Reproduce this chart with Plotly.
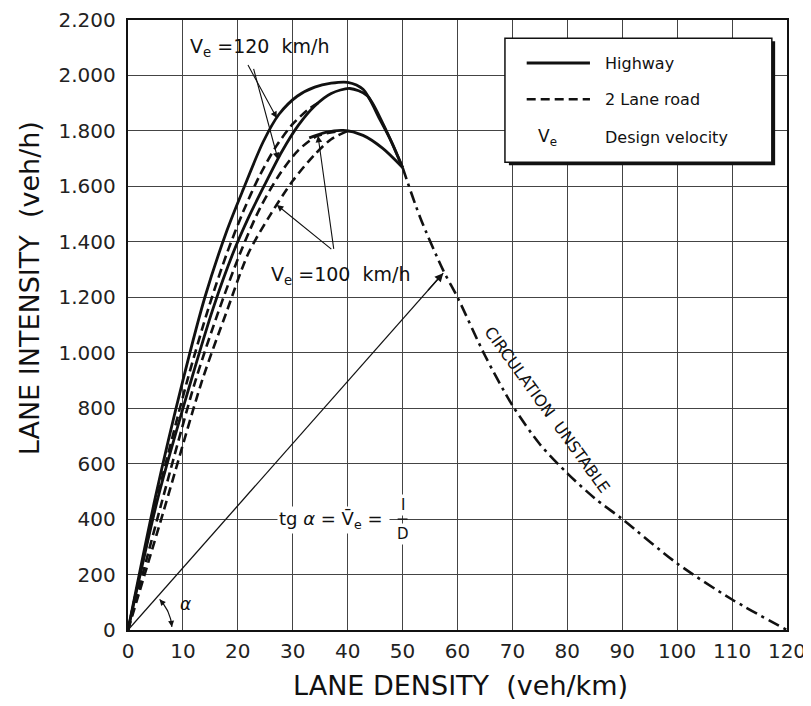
import numpy as np
import plotly.graph_objects as go

# lane density (veh/km) / lane intensity (veh/h)
k_hw_120 = [0, 5, 10, 14, 18, 21, 24.6, 27.5, 30.8, 34, 37, 40, 42.8, 45.9, 48, 50]
q_hw_120 = [0, 480, 900, 1200, 1440, 1590, 1760, 1860, 1925, 1958, 1972, 1975, 1950, 1840, 1760, 1668]

k_hw_100 = [0, 5.5, 11.5, 15.5, 19.1, 22, 25, 28, 31, 34, 37, 40.4, 43.5, 46.4, 50]
q_hw_100 = [0, 480, 900, 1160, 1358, 1490, 1610, 1725, 1820, 1890, 1935, 1953, 1928, 1827, 1668]

k_top = [33, 36, 39.2, 42.8, 46.4, 50]
q_top = [1775, 1795, 1802, 1784, 1737, 1668]

k_2l_120 = [0, 5, 10.8, 14.8, 18, 21, 24, 27, 30, 33, 35]
q_2l_120 = [0, 450, 900, 1170, 1358, 1510, 1640, 1745, 1825, 1880, 1905]

k_2l_mid = [0, 6, 12.3, 16.5, 20.4, 24, 27.5, 31, 34.5, 38.6]
q_2l_mid = [0, 450, 900, 1150, 1358, 1520, 1640, 1730, 1782, 1800]

k_2l_100 = [0, 6.5, 13.5, 18, 21.9, 26, 30, 34, 37, 40]
q_2l_100 = [0, 430, 900, 1150, 1358, 1500, 1620, 1715, 1770, 1800]

k_unstable = [50, 53.2, 57.4, 60, 65, 70, 75, 80, 85, 90, 100, 110, 120]
q_unstable = [1668, 1488, 1297, 1200, 990, 810, 670, 565, 475, 400, 240, 110, 0]

x_ticks = list(range(0, 121, 10))
y_ticks = list(range(0, 2201, 200))

FONT = "DejaVu Sans"
INK = "#111"

fig = go.Figure()

def curve(k, q, dash="solid", width=2.8):
    fig.add_trace(go.Scatter(x=k, y=q, mode="lines", line=dict(color=INK, width=width, dash=dash, shape="spline", smoothing=0.8),
                             hoverinfo="skip", showlegend=False))

curve(k_hw_120, q_hw_120)
curve(k_hw_100, q_hw_100)
curve(k_top, q_top)
curve(k_2l_120, q_2l_120, dash="9px,5px", width=2.6)
curve(k_2l_mid, q_2l_mid, dash="9px,5px", width=2.6)
curve(k_2l_100, q_2l_100, dash="9px,5px", width=2.6)
curve(k_unstable, q_unstable, dash="12px,5px,3px,5px", width=2.6)

# secant line from the origin
tip_k, tip_q = k_unstable[2], q_unstable[2] - 10
fig.add_trace(go.Scatter(x=[0, tip_k], y=[0, tip_q], mode="lines", line=dict(color=INK, width=1.3),
                         hoverinfo="skip", showlegend=False))
fig.add_annotation(x=tip_k, y=tip_q, ax=tip_k - 3, ay=tip_q - 3 * tip_q / tip_k, axref="x", ayref="y",
                   text="", showarrow=True, arrowhead=2, arrowsize=1.3, arrowwidth=1.3, arrowcolor=INK)

# alpha arc (radius in px converted through the axis scale)
px_x, px_y = 659 / 120, 610 / 2200
ang = np.radians(np.linspace(4, 44, 30))
fig.add_trace(go.Scatter(x=44 * np.cos(ang) / px_x, y=44 * np.sin(ang) / px_y, mode="lines",
                         line=dict(color=INK, width=1.2), hoverinfo="skip", showlegend=False))
fig.add_annotation(x=44 * np.cos(ang[0]) / px_x, y=44 * np.sin(ang[0]) / px_y, ax=44 * np.cos(ang[5]) / px_x, ay=44 * np.sin(ang[5]) / px_y,
                   axref="x", ayref="y", text="", showarrow=True, arrowhead=2, arrowsize=1, arrowwidth=1.2, arrowcolor=INK)
fig.add_annotation(x=44 * np.cos(ang[-1]) / px_x, y=44 * np.sin(ang[-1]) / px_y, ax=44 * np.cos(ang[-6]) / px_x, ay=44 * np.sin(ang[-6]) / px_y,
                   axref="x", ayref="y", text="", showarrow=True, arrowhead=2, arrowsize=1, arrowwidth=1.2, arrowcolor=INK)
fig.add_annotation(x=10.4, y=95, text="<i>α</i>", showarrow=False, font=dict(family=FONT, size=17, color=INK))

# Ve labels with pointer arrows
def pointer(tail, k_list, q_list, k_at):
    fig.add_annotation(x=k_at, y=float(np.interp(k_at, k_list, q_list)), ax=tail[0], ay=tail[1], axref="x", ayref="y",
                       text="", showarrow=True, arrowhead=2, arrowsize=1.2, arrowwidth=1.1, arrowcolor=INK)

fig.add_annotation(x=24.0, y=2100, text="V<sub>e</sub> =120  km/h", showarrow=False, font=dict(family=FONT, size=19, color=INK))
pointer((21.7, 2043), k_hw_120, q_hw_120, 27.1)
pointer((22.8, 2029), k_hw_100, q_hw_100, 27.3)

fig.add_annotation(x=38.7, y=1280, text="V<sub>e</sub> =100  km/h", showarrow=False, font=dict(family=FONT, size=19, color=INK))
pointer((37.3, 1369), k_2l_100, q_2l_100, 27.1)
pointer((37.5, 1369), k_2l_mid, q_2l_mid, 34.6)

# tg alpha label with I/D fraction
fig.add_annotation(x=37.5, y=398, text="tg <i>α</i> = V̄<sub>e</sub> = ", showarrow=False, bgcolor="white",
                   font=dict(family=FONT, size=18, color=INK))
fig.add_annotation(x=50.0, y=450, text="I", showarrow=False, bgcolor="white", font=dict(family=FONT, size=15, color=INK))
fig.add_annotation(x=50.0, y=348, text="D", showarrow=False, bgcolor="white", font=dict(family=FONT, size=15, color=INK))
fig.add_shape(type="line", x0=49.1, x1=50.9, y0=400, y1=400, line=dict(color=INK, width=1.3))

fig.add_annotation(x=76.3, y=795, text="CIRCULATION  UNSTABLE", textangle=54, showarrow=False,
                   font=dict(family=FONT, size=16, color=INK))

# legend box drawn by hand
fig.add_shape(type="rect", xref="paper", yref="paper", x0=0.578, x1=0.982, y0=0.762, y1=0.965,
              line=dict(width=0), fillcolor=INK)
fig.add_shape(type="rect", xref="paper", yref="paper", x0=0.572, x1=0.977, y0=0.767, y1=0.970,
              line=dict(width=1.5, color=INK), fillcolor="white")
fig.add_shape(type="line", xref="paper", yref="paper", x0=0.605, x1=0.701, y0=0.9295, y1=0.9295,
              line=dict(width=2.8, color=INK))
fig.add_shape(type="line", xref="paper", yref="paper", x0=0.605, x1=0.701, y0=0.870, y1=0.870,
              line=dict(width=2.6, color=INK, dash="9px,5px"))
legend_rows = [("Highway", 0.9295), ("2 Lane road", 0.870), ("Design velocity", 0.808)]
for label, yy in legend_rows:
    fig.add_annotation(xref="paper", yref="paper", x=0.721, y=yy, xanchor="left", yanchor="middle", text=label,
                       showarrow=False, font=dict(family=FONT, size=16, color=INK))
fig.add_annotation(xref="paper", yref="paper", x=0.637, y=0.808, xanchor="center", yanchor="middle", text="V<sub>e</sub>",
                   showarrow=False, font=dict(family=FONT, size=17, color=INK))

# axis titles
fig.add_annotation(xref="paper", yref="paper", x=0.504, y=-0.091, xanchor="center", yanchor="middle",
                   text="LANE DENSITY  (veh/km)", showarrow=False, font=dict(family=FONT, size=27, color=INK))
fig.add_annotation(xref="paper", yref="paper", x=-0.149, y=0.56, xanchor="center", yanchor="middle",
                   text="LANE INTENSITY  (veh/h)", textangle=-90, showarrow=False, font=dict(family=FONT, size=27, color=INK))

axis_style = dict(showgrid=True, gridcolor="#444", gridwidth=1.3, showline=True, linecolor=INK, linewidth=2.4,
                  mirror=True, ticks="", zeroline=False, automargin=False)
fig.update_xaxes(range=[0, 120], tickvals=x_ticks, ticklabelstandoff=2,
                 tickfont=dict(family=FONT, size=20, color="#222"), **axis_style)
fig.update_yaxes(range=[0, 2200], tickvals=y_ticks, separatethousands=True, ticklabelstandoff=6,
                 tickfont=dict(family=FONT, size=20, color="#222"), **axis_style)

# page body has an 8px margin, so the figure is 8px smaller than the window
fig.update_layout(width=803, height=698, margin=dict(l=120, r=24, t=12, b=76), plot_bgcolor="white",
                  paper_bgcolor="white", separators=",.", showlegend=False)

fig.write_html("out.html")
